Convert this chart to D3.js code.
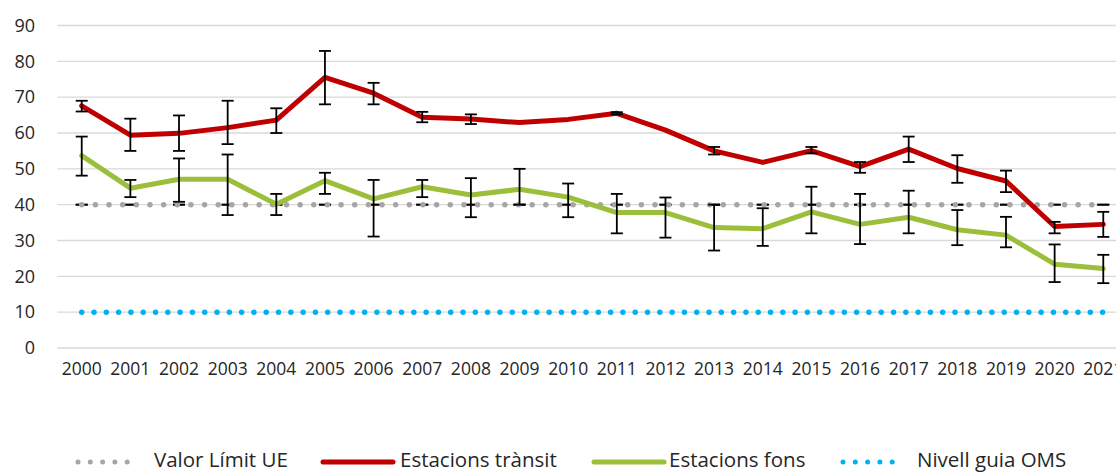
<!DOCTYPE html>
<html>
<head>
<meta charset="utf-8">
<script src="https://cdn.jsdelivr.net/npm/d3@7"></script>
<style>
  body { margin: 0; background: #fff; }
  text { font-family: "Open Sans", sans-serif; fill: #262626; }
</style>
</head>
<body>
<svg id="chart" width="1116" height="473"></svg>
<script>
// data
const years = d3.range(2000, 2022).map(String);
const yTicks = [0, 10, 20, 30, 40, 50, 60, 70, 80, 90];

const limitUE = years.map(() => 40);
const guiaOMS = years.map(() => 10);

const transit = [67.6, 59.4, 59.9, 61.5, 63.6, 75.5, 71.1, 64.4, 63.9, 62.9, 63.8,
                 65.5, 60.8, 55.0, 51.8, 55.1, 50.6, 55.5, 50.1, 46.6, 33.9, 34.5];
const transitHi = [69.0, 64.0, 64.9, 69.0, 66.9, 82.9, 74.0, 65.9, 65.2, null, null,
                   65.8, null, 56.1, null, 56.1, 51.9, 59.0, 53.8, 49.5, 35.2, 38.0];
const transitLo = [66.0, 55.0, 55.0, 56.9, 60.0, 68.0, 68.0, 63.0, 62.5, null, null,
                   65.2, null, 54.0, null, 54.3, 48.9, 51.9, 46.1, 43.5, 32.0, 31.0];

const fons = [53.7, 44.6, 47.1, 47.1, 40.1, 46.7, 41.6, 45.0, 42.7, 44.3, 42.1,
              37.8, 37.8, 33.6, 33.3, 38.0, 34.5, 36.5, 33.0, 31.5, 23.4, 22.2];
const fonsHi = [59.0, 46.9, 52.9, 54.0, 43.0, 48.9, 46.9, 46.9, 47.4, 50.0, 45.9,
                43.0, 42.0, 40.0, 39.0, 45.0, 43.0, 43.9, 38.5, 36.6, 28.9, 26.0];
const fonsLo = [48.1, 42.1, 40.8, 37.1, 37.1, 43.0, 31.1, 42.1, 36.5, 40.0, 36.5,
                32.0, 30.8, 27.2, 28.5, 32.0, 29.0, 32.0, 28.7, 28.1, 18.4, 18.1];

const legendItems = [
  { name: "Valor Límit UE", color: "#a6a6a6", dotted: true, x: 78, tx: 154 },
  { name: "Estacions trànsit", color: "#c00000", dotted: false, x: 323, tx: 400 },
  { name: "Estacions fons", color: "#9bbf3a", dotted: false, x: 594, tx: 669 },
  { name: "Nivell guia OMS", color: "#00b0f0", dotted: true, x: 843, tx: 917 }
];

const svg = d3.select("#chart");
const margin = { left: 57.4, right: 1127.6, top: 25.5, bottom: 348 };

const x = d3.scaleBand().domain(years).range([margin.left, margin.right]);
const cx = d => x(d) + x.bandwidth() / 2;
const y = d3.scaleLinear().domain([0, 90]).range([margin.bottom, margin.top]);

// gridlines
svg.append("g").selectAll("line")
  .data(yTicks)
  .join("line")
    .attr("x1", margin.left).attr("x2", 1116)
    .attr("y1", d => y(d)).attr("y2", d => y(d))
    .attr("stroke", "#d9d9d9").attr("stroke-width", 1.3);

// y axis labels
const yAxis = d3.axisLeft(y).tickValues(yTicks).tickSize(0).tickPadding(0);
svg.append("g")
  .attr("transform", "translate(35,0)")
  .call(yAxis)
  .call(g => g.select(".domain").remove())
  .call(g => g.selectAll("text").attr("font-size", 18).attr("fill", "#262626")
    .style("font-family", "'Open Sans', sans-serif"));

// x axis labels
const xAxis = d3.axisBottom(x).tickSize(0).tickPadding(0);
svg.append("g")
  .attr("transform", "translate(0,363)")
  .call(xAxis)
  .call(g => g.select(".domain").remove())
  .call(g => g.selectAll("text").attr("font-size", 17.5).attr("fill", "#262626")
    .style("font-family", "'Open Sans', sans-serif"));

const line = d3.line().x((d, i) => cx(years[i])).y(d => y(d));

function errorBars(hi, lo) {
  const g = svg.append("g").attr("stroke", "#000").attr("stroke-width", 1.8);
  const data = years.map((yr, i) => ({ yr, hi: hi[i], lo: lo[i] })).filter(d => d.hi != null);
  g.selectAll(".v").data(data).join("line")
    .attr("x1", d => cx(d.yr)).attr("x2", d => cx(d.yr))
    .attr("y1", d => y(d.hi)).attr("y2", d => y(d.lo));
  g.selectAll(".t").data(data).join("line")
    .attr("x1", d => cx(d.yr) - 6).attr("x2", d => cx(d.yr) + 6)
    .attr("y1", d => y(d.hi)).attr("y2", d => y(d.hi));
  g.selectAll(".b").data(data).join("line")
    .attr("x1", d => cx(d.yr) - 6).attr("x2", d => cx(d.yr) + 6)
    .attr("y1", d => y(d.lo)).attr("y2", d => y(d.lo));
}

// EU limit: zero-length error caps, then dotted line
errorBars(limitUE, limitUE);
svg.append("path").datum(limitUE)
  .attr("d", line).attr("fill", "none")
  .attr("stroke", "#a6a6a6").attr("stroke-width", 5.5)
  .attr("stroke-linecap", "round").attr("stroke-dasharray", "0 13.65");

// traffic stations
svg.append("path").datum(transit)
  .attr("d", line).attr("fill", "none")
  .attr("stroke", "#c00000").attr("stroke-width", 5)
  .attr("stroke-linejoin", "round").attr("stroke-linecap", "round");
errorBars(transitHi, transitLo);

// background stations
svg.append("path").datum(fons)
  .attr("d", line).attr("fill", "none")
  .attr("stroke", "#9bbf3a").attr("stroke-width", 5)
  .attr("stroke-linejoin", "round").attr("stroke-linecap", "round");
errorBars(fonsHi, fonsLo);

// WHO guide level
svg.append("path").datum(guiaOMS)
  .attr("d", line).attr("fill", "none")
  .attr("stroke", "#00b0f0").attr("stroke-width", 5.5)
  .attr("stroke-linecap", "round").attr("stroke-dasharray", "0 12.3");

// legend
const lg = svg.append("g").attr("transform", "translate(0,462)");
legendItems.forEach(it => {
  if (it.dotted) {
    lg.append("line").attr("x1", it.x).attr("x2", it.x + 61.5).attr("y1", 0).attr("y2", 0)
      .attr("stroke", it.color).attr("stroke-width", 5)
      .attr("stroke-linecap", "round").attr("stroke-dasharray", "0 12.3");
  } else {
    lg.append("line").attr("x1", it.x).attr("x2", it.x + 70).attr("y1", 0).attr("y2", 0)
      .attr("stroke", it.color).attr("stroke-width", 5).attr("stroke-linecap", "round");
  }
  lg.append("text").attr("x", it.tx).attr("y", -2.5).attr("dy", "0.35em")
    .attr("font-size", 20.5).text(it.name);
});
</script>
</body>
</html>
